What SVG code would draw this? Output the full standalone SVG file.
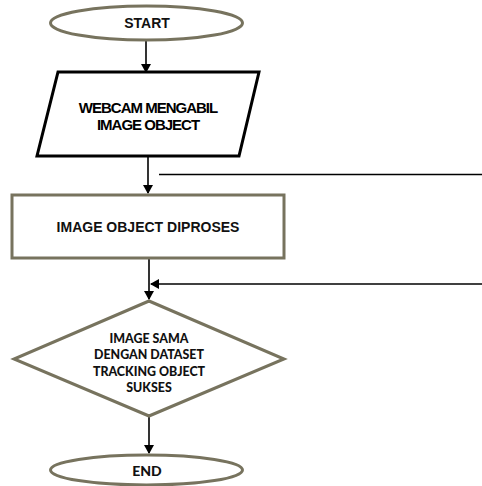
<svg xmlns="http://www.w3.org/2000/svg" width="482" height="486" viewBox="0 0 482 486">
<style>
.ol{fill:#fff;stroke:#77735e;stroke-width:3}
.bk{fill:#fff;stroke:#000;stroke-width:3}
.t{font-family:"Liberation Sans",Arial,sans-serif;font-weight:bold;font-size:14px;fill:#111;text-anchor:middle}
.tc{font-family:"Lato","Liberation Sans",sans-serif;font-weight:900;font-size:12.4px;fill:#111;text-anchor:middle}
.tw{font-family:"Liberation Sans",Arial,sans-serif;font-weight:bold;font-size:15px;fill:#000;text-anchor:middle;letter-spacing:-1px}
.c{stroke:#000;stroke-width:1.6;fill:none}
</style>
<defs>
<marker id="ah" markerWidth="10" markerHeight="10" refX="8" refY="5" orient="auto" markerUnits="userSpaceOnUse">
<path d="M0,0 L9,5 L0,10 z" fill="#000"/>
</marker>
</defs>
<g id="connectors">
<line class="c" x1="146" y1="40" x2="146" y2="72" marker-end="url(#ah)"/>
<line class="c" x1="148" y1="157" x2="148" y2="193" marker-end="url(#ah)"/>
<line class="c" x1="159" y1="174.5" x2="482" y2="174.5"/>
<line class="c" x1="149" y1="258" x2="149" y2="299" marker-end="url(#ah)"/>
<line class="c" x1="482" y1="284" x2="151" y2="284" marker-end="url(#ah)"/>
<line class="c" x1="149" y1="416" x2="149" y2="453" marker-end="url(#ah)"/>
</g>
<g id="start">
<ellipse class="ol" cx="146.5" cy="23" rx="96" ry="17"/>
<text class="t" x="147" y="28">START</text>
</g>
<g id="input">
<polygon class="bk" points="58,72 259,72 239,156 37,156"/>
<text class="tw" x="148" y="112.5">WEBCAM MENGABIL</text>
<text class="tw" x="148" y="129.5">IMAGE OBJECT</text>
</g>
<g id="process">
<rect class="ol" x="12" y="195" width="272" height="63"/>
<text class="t" x="148" y="232">IMAGE OBJECT DIPROSES</text>
</g>
<g id="decision">
<polygon class="ol" points="149,301 284,359 149,416 14,359"/>
<text class="tc" x="149" y="342.5">IMAGE SAMA</text>
<text class="tc" x="149" y="359">DENGAN DATASET</text>
<text class="tc" x="149" y="375.5">TRACKING OBJECT</text>
<text class="tc" x="149" y="392">SUKSES</text>
</g>
<g id="end">
<ellipse class="ol" cx="146.5" cy="470" rx="96" ry="15"/>
<text class="tc" x="147" y="476" style="font-size:14px">END</text>
</g>
</svg>
